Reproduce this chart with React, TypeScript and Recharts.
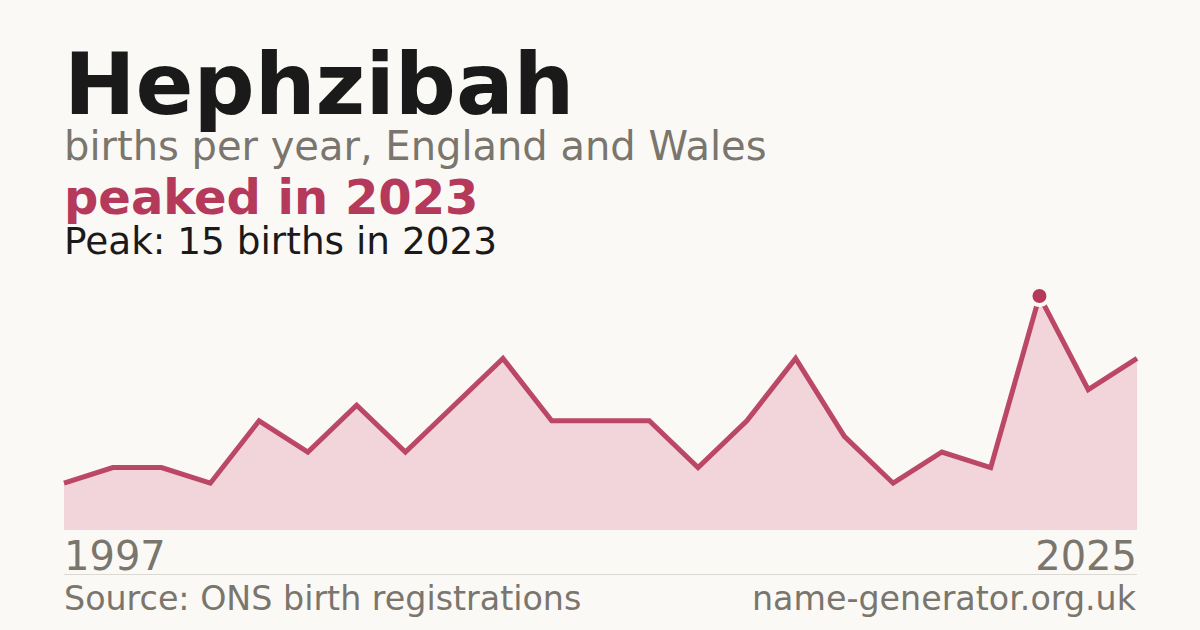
import React from "react";
import { AreaChart, Area, XAxis, YAxis, ReferenceDot } from "recharts";

const years = [
  1997, 1998, 1999, 2000, 2001, 2003, 2004, 2005, 2007, 2008, 2009, 2011,
  2012, 2013, 2015, 2016, 2017, 2019, 2020, 2022, 2023, 2024, 2025,
];
const births = [3, 4, 4, 3, 7, 5, 8, 5, 8, 11, 7, 7, 7, 4, 7, 11, 6, 3, 5, 4, 15, 9, 11];

const NAME = "Hephzibah";
const SUBTITLE = "births per year, England and Wales";
const HEADLINE = "peaked in 2023";
const PEAK_TEXT = "Peak: 15 births in 2023";
const SOURCE = "Source: ONS birth registrations";
const SITE = "name-generator.org.uk";

const BG = "#faf9f5";
const CRIMSON = "#b5395a";
const GREY = "#7a756d";
const FONT = "'DejaVu Sans', sans-serif";

const data = years.map((y, i) => ({ year: y, births: births[i] }));
const peakIdx = births.indexOf(Math.max(...births));

// only first and last year get a label
// eslint-disable-next-line @typescript-eslint/no-explicit-any
function EndTick(props: any) {
  const { x, y, index, payload } = props;
  const last = index === years.length - 1;
  if (index !== 0 && !last) return null;
  return (
    <text
      x={x}
      y={y}
      dy={32}
      textAnchor={last ? "end" : "start"}
      fill={GREY}
      fontSize={40}
      fontFamily={FONT}
    >
      {payload.value}
    </text>
  );
}

export default function App() {
  return (
    <div style={{ position: "relative", width: 1200, height: 630, background: BG, overflow: "hidden" }}>
      <style>{"body{margin:0}"}</style>
      <svg width={1200} height={630} style={{ position: "absolute", left: 0, top: 0 }}>
        <text x={64} y={114} fontSize={85.5} fontWeight="bold" fill="#1a1a1a" fontFamily={FONT}>{NAME}</text>
        <text x={64} y={160} fontSize={40} fill={GREY} fontFamily={FONT}>{SUBTITLE}</text>
        <text x={64} y={214} fontSize={48} fontWeight="bold" fill={CRIMSON} fontFamily={FONT}>{HEADLINE}</text>
        <text x={64} y={254} fontSize={37.4} fill="#1a1a1a" fontFamily={FONT}>{PEAK_TEXT}</text>
        <line x1={64} x2={1137} y1={574.5} y2={574.5} stroke="#dcd9d2" strokeWidth={1} />
        <text x={64} y={610} fontSize={33.3} fill={GREY} fontFamily={FONT}>{SOURCE}</text>
        <text x={1136} y={610} fontSize={33.3} fill={GREY} fontFamily={FONT} textAnchor="end">{SITE}</text>
      </svg>
      <div style={{ position: "absolute", left: 0, top: 0 }}>
        <AreaChart
          width={1200}
          height={630}
          data={data}
          margin={{ top: 296, right: 63, left: 64, bottom: 60 }}
        >
          <XAxis
            dataKey="year"
            type="category"
            height={40}
            axisLine={false}
            tickLine={false}
            interval={0}
            tick={<EndTick />}
          />
          <YAxis hide domain={[0, 15]} />
          <Area
            type="linear"
            dataKey="births"
            stroke={CRIMSON}
            strokeWidth={5}
            strokeOpacity={0.92}
            fill="#f1d5da"
            fillOpacity={1}
            dot={false}
            activeDot={false}
            isAnimationActive={false}
          />
          <ReferenceDot
            x={years[peakIdx]}
            y={births[peakIdx]}
            r={9}
            fill={CRIMSON}
            stroke={BG}
            strokeWidth={4}
          />
        </AreaChart>
      </div>
    </div>
  );
}
